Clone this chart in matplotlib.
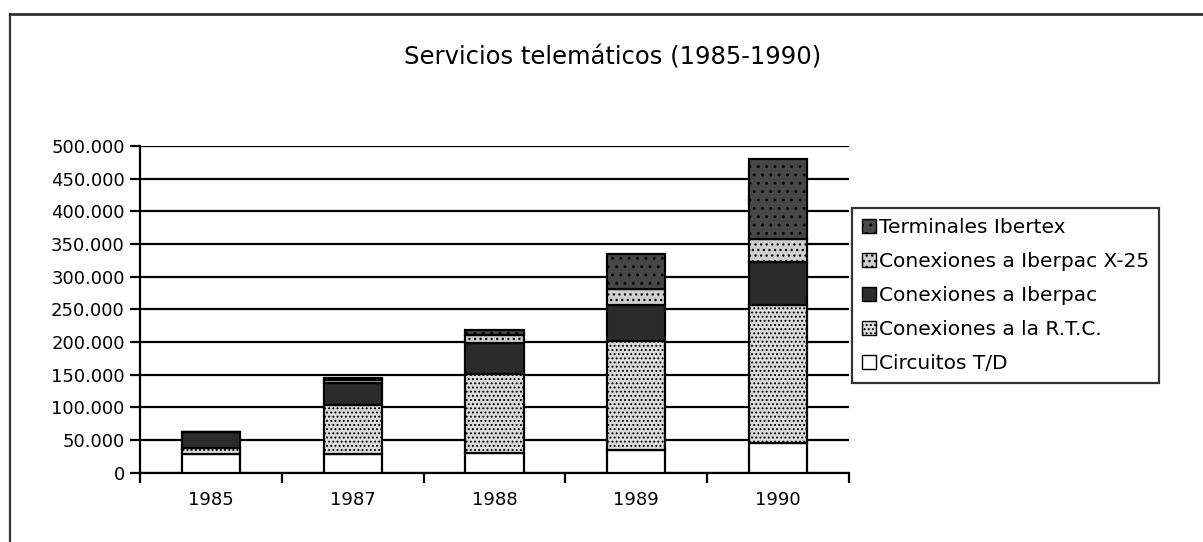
import matplotlib
matplotlib.use("Agg")
import matplotlib.pyplot as plt
from matplotlib.lines import Line2D
from matplotlib.patches import Patch
from matplotlib.ticker import FuncFormatter
import numpy as np

# data (units)
years = ["1985", "1987", "1988", "1989", "1990"]
circuitos = [29000, 28000, 30000, 35000, 46000]
rtc = [9000, 75000, 121000, 166000, 210000]
iberpac = [24000, 34000, 48000, 56000, 67000]
x25 = [0, 5000, 12000, 24000, 34000]
ibertex = [0, 3000, 7000, 54000, 123000]
yticks = [0, 50000, 100000, 150000, 200000, 250000, 300000, 350000, 400000, 450000, 500000]

SERIES = [
    ("Circuitos T/D", circuitos, dict(facecolor="white", hatch=None)),
    ("Conexiones a la R.T.C.", rtc, dict(facecolor="#dcdcdc", hatch="....")),
    ("Conexiones a Iberpac", iberpac, dict(facecolor="#2b2b2b", hatch=None)),
    ("Conexiones a Iberpac X-25", x25, dict(facecolor="#cfcfcf", hatch="...")),
    ("Terminales Ibertex", ibertex, dict(facecolor="#474747", hatch="..")),
]

plt.rcParams["font.family"] = ["DejaVu Sans"]
plt.rcParams["hatch.color"] = "#8a8a8a"
plt.rcParams["hatch.linewidth"] = 0.9

fig = plt.figure(figsize=(12.03, 5.42), dpi=100)
ax = fig.add_axes([140 / 1203, 1 - 472.7 / 542, (849 - 140) / 1203, (472.7 - 146) / 542])

x = np.arange(len(years))
bottom = np.zeros(len(years))
handles = []
for name, vals, st in SERIES:
    ax.bar(x, vals, width=0.41, bottom=bottom, facecolor=st["facecolor"], hatch=st["hatch"],
           edgecolor="black", linewidth=1.6, zorder=3)
    bottom += np.array(vals)
    handles.append(Patch(facecolor=st["facecolor"], hatch=st["hatch"], edgecolor="black",
                         linewidth=1.0, label=name))

ax.set_xlim(-0.5, len(years) - 0.5)
ax.set_ylim(0, 500000)
ax.set_yticks(yticks)
ax.yaxis.set_major_formatter(FuncFormatter(lambda v, p: f"{int(v):,}".replace(",", ".")))
ax.set_xticks(x)
ax.set_xticklabels(years)
ax.set_xticks(np.arange(len(years) + 1) - 0.5, minor=True)
ax.tick_params(axis="x", which="major", length=0, pad=13, labelsize=13)
ax.tick_params(axis="x", which="minor", length=7, width=1.6, direction="out")
ax.tick_params(axis="y", length=7, width=1.6, direction="out", pad=4, labelsize=13)
ax.yaxis.grid(True, color="black", linewidth=1.6, zorder=0)
ax.set_axisbelow(True)
for s in ("top", "right"):
    ax.spines[s].set_visible(False)
for s in ("left", "bottom"):
    ax.spines[s].set_linewidth(1.6)

fig.text(613 / 1203, 1 - 57 / 542, "Servicios telemáticos (1985-1990)", ha="center", va="center",
         fontsize=17.5)

leg = fig.legend(handles[::-1], [h.get_label() for h in handles[::-1]], loc="upper left",
                 bbox_to_anchor=(852 / 1203, 1 - 208 / 542), fontsize=14.5, frameon=True,
                 fancybox=False, edgecolor="black", handlelength=0.7, handleheight=0.7,
                 handletextpad=0.15, labelspacing=0.74, borderpad=0.5, borderaxespad=0)
leg.get_frame().set_linewidth(1.6)

# outer frame of the scanned page (cut at right and bottom)
fig.add_artist(Line2D([10 / 1203, 1], [1 - 14 / 542, 1 - 14 / 542], color="#333333", lw=2,
                      transform=fig.transFigure))
fig.add_artist(Line2D([10 / 1203, 10 / 1203], [0, 1 - 14 / 542], color="#333333", lw=1.6,
                      transform=fig.transFigure))

fig.savefig("out.png", dpi=100)
